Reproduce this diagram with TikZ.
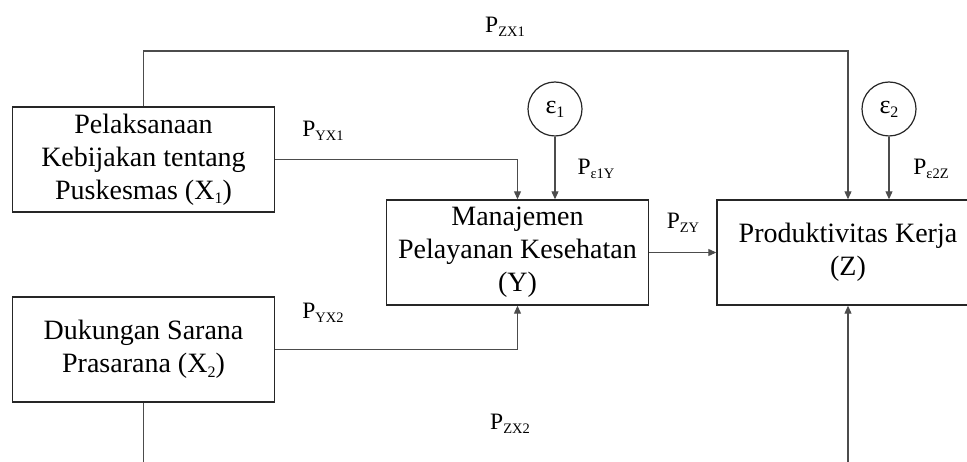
\documentclass[tikz,border=0pt]{standalone}
\usepackage{fontspec}
\setmainfont{Liberation Serif}
\usepackage{tikz}
\usetikzlibrary{arrows.meta}

\newcommand{\boxsub}[1]{\raisebox{-0.35ex}{\fontsize{16}{16}\selectfont #1}}
\newcommand{\lblsub}[1]{\raisebox{-0.4ex}{\fontsize{14.5}{14.5}\selectfont #1}}

\tikzset{
	varbox/.style={draw=black!85, line width=1.4pt, minimum width=262pt, minimum height=105pt,
		inner sep=0pt, align=center, font=\fontsize{28}{33}\selectfont},
	errcirc/.style={draw=black!85, line width=1.2pt, circle, minimum size=54pt, inner sep=0pt,
		font=\fontsize{26}{26}\selectfont},
	path/.style={draw=black!70, line width=1.1pt},
	arr/.style={path, -{Triangle[length=8pt, width=7pt]}},
	lbl/.style={inner sep=0pt, font=\fontsize{23.5}{23.5}\selectfont}
}

\begin{document}
\begin{tikzpicture}[x=1pt, y=-1pt]
	% parameters
	\def\W{967} % picture width
	\def\H{462} % picture height

	\useasboundingbox (0,0) rectangle (\W,\H);
	\clip (0,0) rectangle (\W,\H);

	% variables
	\node[varbox] (x1) at (143.5,159.5) {Pelaksanaan\\Kebijakan tentang\\Puskesmas (X\boxsub{1})};
	\node[varbox] (x2) at (143.5,349.5) {Dukungan Sarana\\Prasarana (X\boxsub{2})};
	\node[varbox] (y)  at (517.5,252.5) {Manajemen\\Pelayanan Kesehatan\\(Y)};
	\node[varbox] (z)  at (848,252.5)   {Produktivitas Kerja\\(Z)};

	% residuals
	\node[errcirc] (e1) at (555,109) {ε\boxsub{1}};
	\node[errcirc] (e2) at (889,109) {ε\boxsub{2}};

	% free ends
	\coordinate (top) at (500,51);
	\coordinate (bl) at (143.5,470);
	\coordinate (br) at (848,470);

	% paths
	\draw[arr] (x1.north) |- (top) -| (z.north);
	\draw[arr] (x1.east) -| (y.north);
	\draw[arr] (x2.east) -| (y.south);
	\draw[arr] (e1.south) -- (e1 |- y.north);
	\draw[arr] (e2.south) -- (e2 |- z.north);
	\draw[arr] (y.east) -- (z.west);
	\draw[path] (x2.south) -- (bl);
	\draw[arr] (br) -- (z.south);

	% coefficients
	\node[lbl] (pzx1) at (505,27)  {P\lblsub{ZX1}};
	\node[lbl] (pyx1) at (323,131) {P\lblsub{YX1}};
	\node[lbl] (pyx2) at (323,313) {P\lblsub{YX2}};
	\node[lbl] (pe1y) at (596,169) {P\lblsub{ε1Y}};
	\node[lbl] (pe2z) at (931,169) {P\lblsub{ε2Z}};
	\node[lbl] (pzy)  at (683,223) {P\lblsub{ZY}};
	\node[lbl] (pzx2) at (510,424) {P\lblsub{ZX2}};
\end{tikzpicture}
\end{document}
